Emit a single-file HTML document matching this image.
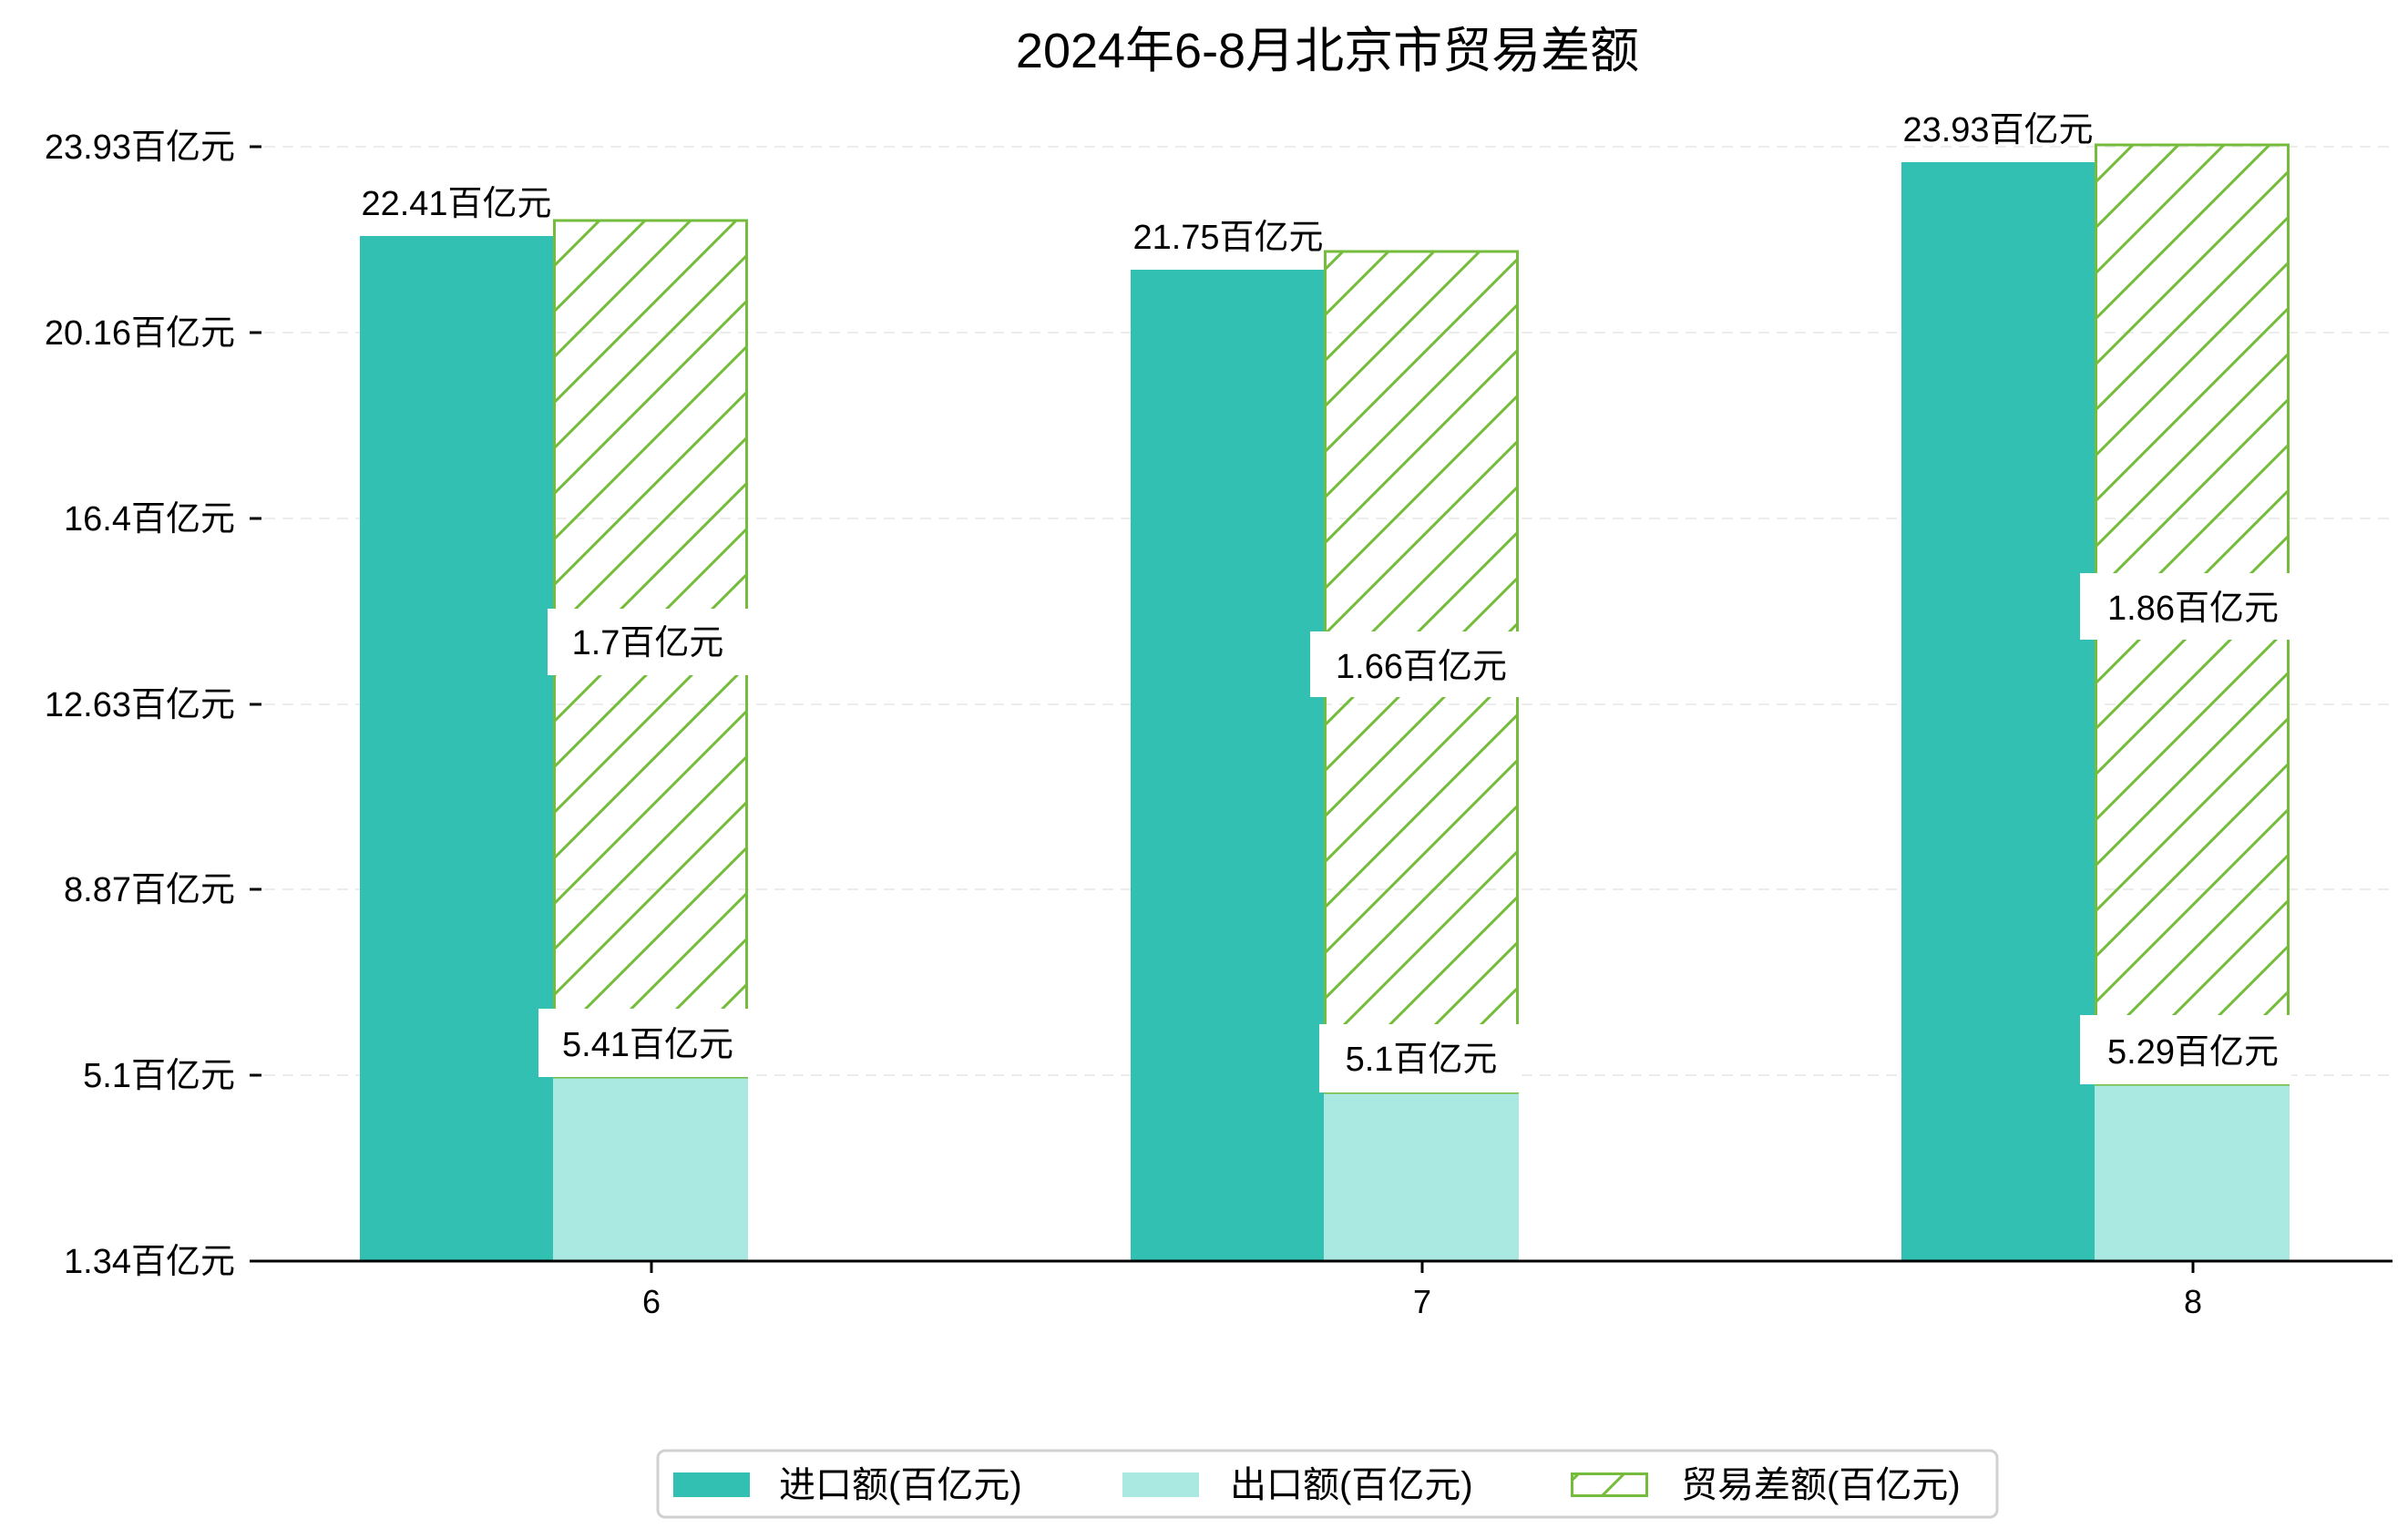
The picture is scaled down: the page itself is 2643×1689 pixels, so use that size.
<!DOCTYPE html>
<html><head><meta charset="utf-8"><style>
html,body{margin:0;padding:0;background:#fff}
svg{display:block}
text{font-family:"Liberation Sans","Noto Sans CJK SC",sans-serif;fill:#000}
</style></head><body>
<svg width="2643" height="1689" viewBox="0 0 2643 1689" xmlns="http://www.w3.org/2000/svg">
<defs>
<pattern id="h" patternUnits="userSpaceOnUse" width="50" height="50">
<path d="M-10,60 L60,-10 M-35,35 L35,-35 M15,85 L85,15" stroke="#76bc3c" stroke-width="3"/>
</pattern>
</defs>
<text x="1457" y="74" font-size="54" text-anchor="middle">2024年6-8月北京市贸易差额</text>
<g stroke="#ececec" stroke-width="2" stroke-dasharray="12,8">
<line x1="290" y1="161" x2="2626" y2="161"/>
<line x1="290" y1="365" x2="2626" y2="365"/>
<line x1="290" y1="569" x2="2626" y2="569"/>
<line x1="290" y1="773" x2="2626" y2="773"/>
<line x1="290" y1="976" x2="2626" y2="976"/>
<line x1="290" y1="1180" x2="2626" y2="1180"/>
</g>
<g stroke="#000" stroke-width="3">
<line x1="274" y1="161" x2="287" y2="161"/>
<line x1="274" y1="365" x2="287" y2="365"/>
<line x1="274" y1="569" x2="287" y2="569"/>
<line x1="274" y1="773" x2="287" y2="773"/>
<line x1="274" y1="976" x2="287" y2="976"/>
<line x1="274" y1="1180" x2="287" y2="1180"/>
<line x1="274" y1="1384" x2="287" y2="1384"/>
</g>
<g font-size="38" text-anchor="end">
<text x="258" y="174">23.93百亿元</text>
<text x="258" y="378">20.16百亿元</text>
<text x="258" y="582">16.4百亿元</text>
<text x="258" y="786">12.63百亿元</text>
<text x="258" y="989">8.87百亿元</text>
<text x="258" y="1193">5.1百亿元</text>
<text x="258" y="1397">1.34百亿元</text>
</g>
<g>
<rect x="395" y="259" width="212" height="1125" fill="#32c0b3"/>
<rect x="607" y="1182" width="214" height="202" fill="#aae8e2"/>
<rect x="608.5" y="242" width="211" height="940" fill="url(#h)" stroke="#76bc3c" stroke-width="3"/>

<rect x="1241" y="296" width="212" height="1088" fill="#32c0b3"/>
<rect x="1453" y="1199" width="214" height="185" fill="#aae8e2"/>
<rect x="1454.5" y="276" width="211" height="923" fill="url(#h)" stroke="#76bc3c" stroke-width="3"/>

<rect x="2087" y="178" width="212" height="1206" fill="#32c0b3"/>
<rect x="2299" y="1190" width="214" height="194" fill="#aae8e2"/>
<rect x="2300.5" y="159" width="211" height="1031" fill="url(#h)" stroke="#76bc3c" stroke-width="3"/>
</g>
<g fill="#fff">
<rect x="601" y="668" width="222" height="73"/>
<rect x="591" y="1107" width="232" height="75"/>
<rect x="1438" y="693" width="230" height="72"/>
<rect x="1448" y="1124" width="220" height="75"/>
<rect x="2283" y="629" width="232" height="73"/>
<rect x="2283" y="1114" width="232" height="76"/>
</g>
<g font-size="38" text-anchor="middle">
<text x="501" y="236">22.41百亿元</text>
<text x="1348" y="273">21.75百亿元</text>
<text x="2193" y="155">23.93百亿元</text>
<text x="711" y="718">1.7百亿元</text>
<text x="1560" y="744">1.66百亿元</text>
<text x="2407" y="680">1.86百亿元</text>
<text x="711" y="1159">5.41百亿元</text>
<text x="1560" y="1175">5.1百亿元</text>
<text x="2407" y="1167">5.29百亿元</text>
</g>
<line x1="276" y1="1384" x2="2626" y2="1384" stroke="#000" stroke-width="3"/>
<g stroke="#000" stroke-width="3">
<line x1="715" y1="1384" x2="715" y2="1397"/>
<line x1="1561" y1="1384" x2="1561" y2="1397"/>
<line x1="2407" y1="1384" x2="2407" y2="1397"/>
</g>
<g font-size="36" text-anchor="middle">
<text x="715" y="1441">6</text>
<text x="1561" y="1441">7</text>
<text x="2407" y="1441">8</text>
</g>
<rect x="722" y="1592" width="1470" height="73" rx="8" fill="#fff" stroke="#d0d0d0" stroke-width="3"/>
<rect x="739" y="1616" width="84" height="27" fill="#32c0b3"/>
<rect x="1232" y="1616" width="84" height="27" fill="#aae8e2"/>
<rect x="1725.5" y="1617.5" width="82" height="24" fill="url(#h)" stroke="#76bc3c" stroke-width="3"/>
<g font-size="40">
<text x="855" y="1643">进口额(百亿元)</text>
<text x="1350" y="1643">出口额(百亿元)</text>
<text x="1845" y="1643">贸易差额(百亿元)</text>
</g>
</svg>
</body></html>
